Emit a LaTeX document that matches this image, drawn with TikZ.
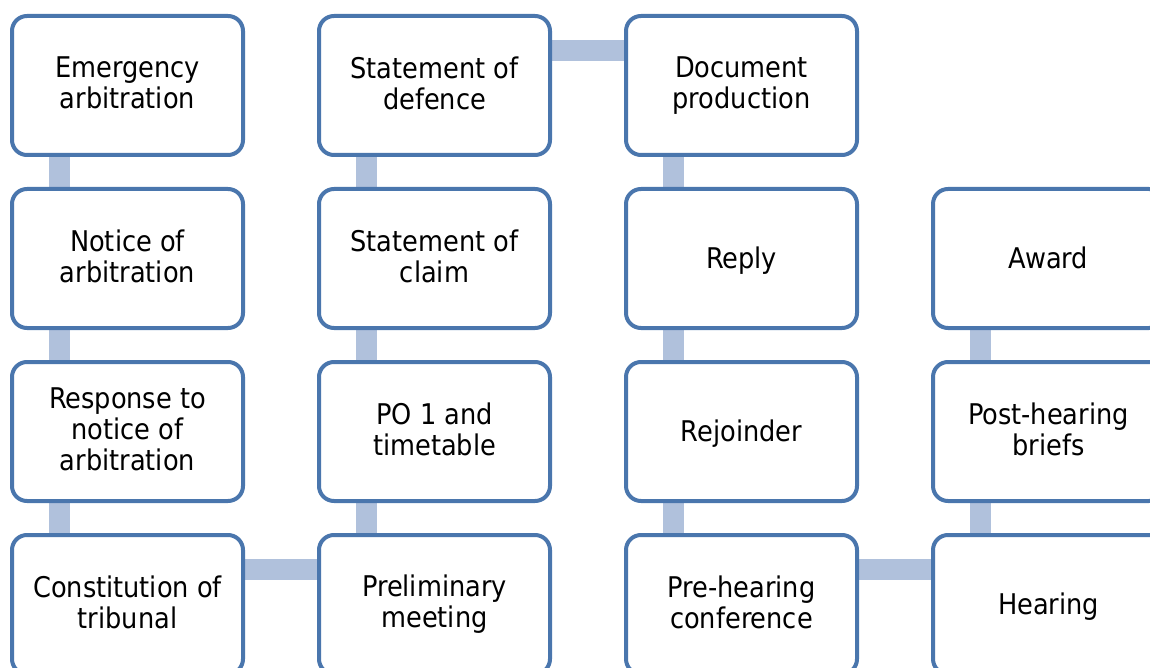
\documentclass[tikz,border=0pt]{standalone}
\usepackage{fontspec}
\setmainfont{DejaVu Sans Condensed}
\usetikzlibrary{backgrounds}
\definecolor{boxblue}{HTML}{4A76AD}
\definecolor{linkblue}{HTML}{B0C1DC}
\newcommand\boxstrut{\rule[-5.3pt]{0pt}{31pt}}
\begin{document}
\begin{tikzpicture}[x=1pt,y=-1pt,
  stage/.style={draw=boxblue, line width=4pt, fill=white, rounded corners=15pt,
    minimum width=231pt, minimum height=139pt, inner sep=0pt, outer sep=0pt, align=center,
    font=\fontsize{28.5}{31}\selectfont, text=black,
    execute at begin node=\boxstrut, execute at end node=\boxstrut},
  link/.style={draw=linkblue, line width=20.5pt}]
\useasboundingbox (0,0) rectangle (1150,668);
\clip (0,0) rectangle (1150,668);
% boxes
\node[stage] (emerg)    at (127.5,85.5)   {Emergency\\arbitration};
\node[stage] (notice)   at (127.5,258.5)  {Notice of\\arbitration};
\node[stage] (response) at (127.5,431.5)  {Response to\\notice of\\arbitration};
\node[stage] (const)    at (127.5,604.5)  {Constitution of\\tribunal};
\node[stage] (defence)  at (434.5,85.5)   {Statement of\\defence};
\node[stage] (claim)    at (434.5,258.5)  {Statement of\\claim};
\node[stage] (po)       at (434.5,431.5)  {PO 1 and\\timetable};
\node[stage] (prelim)   at (434.5,604.5)  {Preliminary\\meeting};
\node[stage] (docs)     at (741.5,85.5)   {Document\\production};
\node[stage] (reply)    at (741.5,258.5)  {Reply};
\node[stage] (rejoin)   at (741.5,431.5)  {Rejoinder};
\node[stage] (prehear)  at (741.5,604.5)  {Pre-hearing\\conference};
\node[stage] (award)    at (1048.5,258.5) {Award};
\node[stage] (post)     at (1048.5,431.5) {Post-hearing\\briefs};
\node[stage] (hearing)  at (1048.5,604.5) {Hearing};
% connectors
\begin{scope}[on background layer]
\foreach \a/\b in {emerg/notice, notice/response, response/const,
                   defence/claim, claim/po, po/prelim,
                   docs/reply, reply/rejoin, rejoin/prehear,
                   award/post, post/hearing}
  \draw[link] ([xshift=47.5pt]\a.south west) -- ([xshift=47.5pt]\b.north west);
\draw[link] ([yshift=-34.5pt]const.north east) -- ([yshift=-34.5pt]prelim.north west);
\draw[link] ([yshift=-34.5pt]defence.north east) -- ([yshift=-34.5pt]docs.north west);
\draw[link] ([yshift=-34.5pt]prehear.north east) -- ([yshift=-34.5pt]hearing.north west);
\end{scope}
\end{tikzpicture}
\end{document}
